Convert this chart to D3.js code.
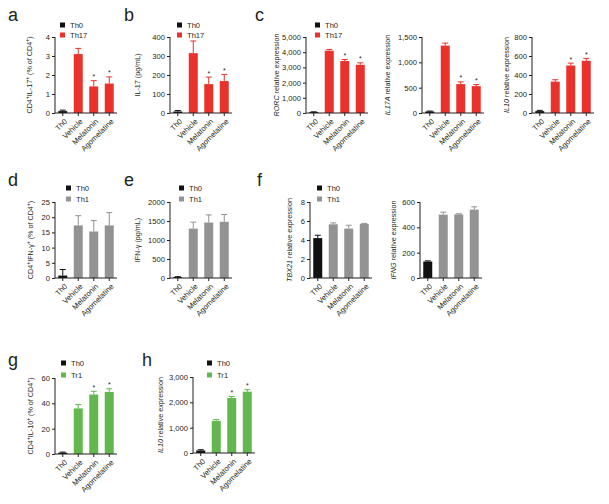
<!DOCTYPE html>
<html><head><meta charset="utf-8">
<script src="https://cdn.jsdelivr.net/npm/d3@7"></script>
<style>
body{margin:0;background:#fff;}
svg text{font-family:"Liberation Sans",Arial,sans-serif;fill:#231f20;}
</style></head>
<body><svg id="c" width="609" height="504"></svg>
<script>
const groups = ["Th0","Vehicle","Melatonin","Agomelatine"];
// panel a
const aVals=[0.1,3.1,1.4,1.55], aErr=[0.05,0.3,0.3,0.35], aTicks=[0,1,2,3,4];
// panel b
const bVals=[8,315,152,168], bErr=[5,64,37,35], bTicks=[0,100,200,300,400];
// panel c
const c1Vals=[60,4100,3420,3170], c1Err=[20,80,100,130], c1Ticks=[0,1000,2000,3000,4000,5000];
const c2Vals=[30,1330,570,530], c2Err=[8,50,45,30], c2Ticks=[0,500,1000,1500];
const c3Vals=[20,330,500,550], c3Err=[8,20,25,25], c3Ticks=[0,200,400,600,800];
// panel d
const dVals=[0.8,17.3,15.3,17.3], dErr=[2.0,3.2,3.6,4.2], dTicks=[0,5,10,15,20,25];
// panel e
const eVals=[25,1300,1460,1480], eErr=[10,170,200,190], eTicks=[0,500,1000,1500,2000];
// panel f
const f1Vals=[4.2,5.65,5.2,5.7], f1Err=[0.3,0.15,0.35,0.05], f1Ticks=[0,2,4,6,8];
const f2Vals=[130,500,502,540], f2Err=[5,20,5,22], f2Ticks=[0,200,400,600];
// panel g
const gVals=[1,36,47,49], gErr=[0.5,3,2.5,2.5], gTicks=[0,20,40,60];
// panel h
const hVals=[100,1270,2170,2420], hErr=[30,50,60,80], hTicks=[0,1000,2000,3000];

const RED="#e8322b", GRAY="#939393", GREEN="#62b84e", BLACK="#111";
const svg=d3.select("#c");
const fs=7.6;

function titleParts(sel, parts){
  let pend=0;
  parts.forEach(p=>{
    const t=sel.append("tspan").text(p.t);
    if(p.sup){
      t.attr("dy",-3+pend).attr("font-size",5);
      pend=3;
    } else {
      if(pend) t.attr("dy",pend);
      pend=0;
      if(p.it) t.attr("font-style","italic");
    }
  });
}

function panel(o){
  const x=d3.scaleBand().domain(groups).range([o.ax,o.ax+62]).paddingInner(0.42).paddingOuter(0.21);
  const y=d3.scaleLinear().domain([0,o.max]).range([o.zero,o.top]);
  const g=svg.append("g");
  const colors=groups.map((gg,i)=>i===0?BLACK:o.color);
  g.selectAll("rect.bar").data(o.vals).join("rect")
    .attr("x",(d,i)=>x(groups[i])).attr("width",x.bandwidth())
    .attr("y",d=>y(d)).attr("height",d=>o.zero-y(d)).attr("fill",(d,i)=>colors[i]);
  o.vals.forEach((v,i)=>{
    const cx=x(groups[i])+x.bandwidth()/2;
    const yt=y(v+o.err[i]);
    g.append("line").attr("x1",cx).attr("x2",cx).attr("y1",y(v)).attr("y2",yt).attr("stroke",colors[i]).attr("stroke-width",1);
    g.append("line").attr("x1",cx-3).attr("x2",cx+3).attr("y1",yt).attr("y2",yt).attr("stroke",colors[i]).attr("stroke-width",1);
    if(o.stars && o.stars[i]){
      g.append("text").attr("x",cx).attr("y",yt-1.5).attr("text-anchor","middle").attr("font-size",7).text("*");
    }
  });
  const ya=g.append("g").attr("transform",`translate(${o.ax},0)`)
    .call(d3.axisLeft(y).tickValues(o.ticks).tickSize(3).tickPadding(2).tickFormat(o.fmt||d3.format("")));
  ya.select(".domain").attr("d",`M0,${o.top}V${o.zero}`).attr("stroke","#231f20");
  ya.selectAll("text").attr("font-size",fs).attr("font-family","'Liberation Sans',Arial,sans-serif").attr("fill","#231f20");
  ya.selectAll(".tick line").attr("stroke","#231f20");
  const xa=g.append("g").attr("transform",`translate(0,${o.zero})`)
    .call(d3.axisBottom(x).tickSize(3).tickSizeOuter(0).tickFormat(""));
  xa.select(".domain").attr("d",`M${o.ax},0H${o.ax+62}`).attr("stroke","#231f20");
  xa.selectAll(".tick line").attr("stroke","#231f20");
  groups.forEach(gr=>{
    const cx=x(gr)+x.bandwidth()/2;
    g.append("text").attr("transform",`translate(${cx+3},${o.zero+7}) rotate(-45)`)
      .attr("text-anchor","end").attr("dy","0.35em").attr("font-size",fs).text(gr);
  });
  const t=g.append("text").attr("transform",`translate(${o.tx},${(o.top+o.zero)/2}) rotate(-90)`)
    .attr("text-anchor","middle").attr("font-size",7.2);
  titleParts(t,o.title);
  if(o.legend){
    o.legend.forEach((l,i)=>{
      const ly=o.ly[i];
      g.append("rect").attr("x",o.lx).attr("y",ly-2.5).attr("width",5).attr("height",5).attr("fill",i===0?BLACK:o.color);
      g.append("text").attr("x",o.lx+10).attr("y",ly).attr("dy","0.35em").attr("font-size",fs).text(l);
    });
  }
  if(o.letter){
    svg.append("text").attr("x",o.letter[1]).attr("y",o.letter[2]).attr("font-size",18).text(o.letter[0]);
  }
}
const relTitle=(gene)=>[{t:gene,it:true},{t:" relative expression"}];
const none=[false,false,false,false], mel=[false,false,true,true];
const comma=d3.format(",");

panel({ax:55,top:37,zero:113,max:4,ticks:aTicks,vals:aVals,err:aErr,color:RED,stars:mel,tx:32,
  title:[{t:"CD4"},{t:"+",sup:true},{t:"IL-17"},{t:"+",sup:true},{t:" (% of CD4"},{t:"+",sup:true},{t:")"}],
  legend:["Th0","Th17"],lx:60,ly:[25,35],letter:["a",8,21]});
panel({ax:170,top:37,zero:113,max:400,ticks:bTicks,vals:bVals,err:bErr,color:RED,stars:mel,tx:140,
  title:[{t:"IL-17 (pg/mL)"}],legend:["Th0","Th17"],lx:177,ly:[25,35],letter:["b",124,21]});
panel({ax:306,top:37,zero:113,max:5000,ticks:c1Ticks,vals:c1Vals,err:c1Err,color:RED,stars:mel,tx:279,fmt:comma,
  title:relTitle("RORC"),legend:["Th0","Th17"],lx:315,ly:[25,35],letter:["c",255,21]});
panel({ax:422,top:37,zero:113,max:1500,ticks:c2Ticks,vals:c2Vals,err:c2Err,color:RED,stars:mel,tx:390,fmt:comma,
  title:relTitle("IL17A")});
panel({ax:532,top:37,zero:113,max:800,ticks:c3Ticks,vals:c3Vals,err:c3Err,color:RED,stars:mel,tx:509,
  title:relTitle("IL10")});

panel({ax:55,top:202,zero:278,max:25,ticks:dTicks,vals:dVals,err:dErr,color:GRAY,stars:none,tx:33,
  title:[{t:"CD4"},{t:"+",sup:true},{t:"IFN-γ"},{t:"+",sup:true},{t:" (% of CD4"},{t:"+",sup:true},{t:")"}],
  legend:["Th0","Th1"],lx:66,ly:[188,199],letter:["d",8,186]});
panel({ax:170,top:202,zero:278,max:2000,ticks:eTicks,vals:eVals,err:eErr,color:GRAY,stars:none,tx:140,
  title:[{t:"IFN-γ (pg/mL)"}],legend:["Th0","Th1"],lx:179,ly:[188,199],letter:["e",124,186]});
panel({ax:310,top:202,zero:278,max:8,ticks:f1Ticks,vals:f1Vals,err:f1Err,color:GRAY,stars:none,tx:292,
  title:relTitle("TBX21"),legend:["Th0","Th1"],lx:317,ly:[188,199],letter:["f",257,186]});
panel({ax:420,top:202,zero:278,max:600,ticks:f2Ticks,vals:f2Vals,err:f2Err,color:GRAY,stars:none,tx:396,
  title:relTitle("IFNG")});

panel({ax:55,top:378,zero:454,max:60,ticks:gTicks,vals:gVals,err:gErr,color:GREEN,stars:mel,tx:33,
  title:[{t:"CD4"},{t:"+",sup:true},{t:"IL-10"},{t:"+",sup:true},{t:" (% of CD4"},{t:"+",sup:true},{t:")"}],
  legend:["Th0","Tr1"],lx:61,ly:[363,375],letter:["g",8,366]});
panel({ax:193,top:377,zero:453,max:3000,ticks:hTicks,vals:hVals,err:hErr,color:GREEN,stars:mel,tx:163,fmt:comma,
  title:relTitle("IL10"),legend:["Th0","Tr1"],lx:207,ly:[363,375],letter:["h",142,366]});
</script></body></html>
